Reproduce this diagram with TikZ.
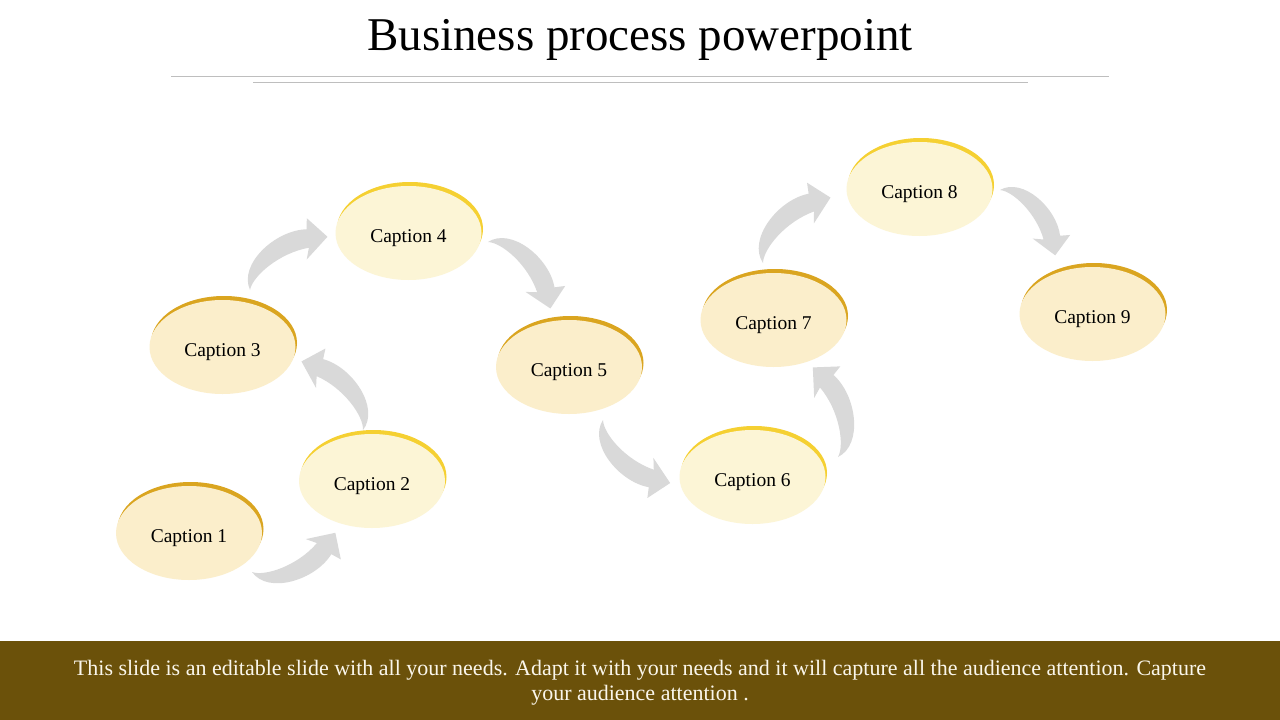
\documentclass[tikz,border=0pt]{standalone}
\usepackage{fontspec}
\setmainfont{Liberation Serif}
\usetikzlibrary{shapes.geometric,calc}
\definecolor{rimdark}{RGB}{218,165,32}
\definecolor{rimlight}{RGB}{245,208,50}
\definecolor{filldark}{RGB}{251,238,203}
\definecolor{filllight}{RGB}{252,245,214}
\definecolor{arrowgray}{RGB}{217,217,217}
\definecolor{footerbg}{RGB}{107,81,10}
\definecolor{rulegray}{RGB}{190,190,190}
\definecolor{footertext}{RGB}{250,246,235}
\tikzset{
  capbox/.style={ellipse, minimum width=146pt, minimum height=94pt, inner sep=0pt,
    font=\fontsize{19.5}{21}\selectfont, text height=23pt, text depth=4pt},
  darkcap/.style={capbox, fill=filldark},
  lightcap/.style={capbox, fill=filllight},
  rule/.style={draw=rulegray, line width=1pt},
  bendarrow/.pic={
    \fill[arrowgray] (0,0) .. controls (5,-28) and (55,-35) .. (81,-18)
      -- (87.5,-27) -- (94,0) -- (64,7) -- (72.5,-1.5)
      .. controls (45,-14) and (10,-10) .. (0,0) -- cycle;
  }
}
\newcommand\capnode[5]{%
  \fill[rim#5] (#2+1.5,#3-4) ellipse [x radius=73pt, y radius=47pt];
  \node[#5cap] (#1) at (#2,#3) {#4};
}
\begin{document}
\begin{tikzpicture}[x=1pt,y=-1pt]
\useasboundingbox (0,0) rectangle (1280,720);
\fill[white] (0,0) rectangle (1280,720);

% title and rules
\node[font=\fontsize{47}{52}\selectfont, anchor=base] (title) at (640,50) {Business process powerpoint};
\coordinate (r1a) at (171,76); \coordinate (r1b) at (1109,76);
\coordinate (r2a) at (253,82); \coordinate (r2b) at (1028,82);
\draw[rule] (r1a) -- (r1b);
\draw[rule] (r2a) -- (r2b);

% caption ellipses
\capnode{c1}{189}{533}{Caption 1}{dark}
\capnode{c2}{372}{481}{Caption 2}{light}
\capnode{c3}{222.5}{347}{Caption 3}{dark}
\capnode{c4}{408.5}{233}{Caption 4}{light}
\capnode{c5}{569}{367}{Caption 5}{dark}
\capnode{c6}{752.5}{477}{Caption 6}{light}
\capnode{c7}{773.5}{320}{Caption 7}{dark}
\capnode{c8}{919.5}{189}{Caption 8}{light}
\capnode{c9}{1092.5}{314}{Caption 9}{dark}

% curved block arrows
\pic[rotate=25.2, yscale=-1, scale=0.98] at (252,572) {bendarrow};
\pic[rotate=131.9, yscale=-1, scale=0.98] at (363,430) {bendarrow};
\pic[rotate=34.5, scale=1] at (250,290) {bendarrow};
\pic[rotate=-46.8, scale=0.97] at (488,242) {bendarrow};
\pic[rotate=-43.2, yscale=-1, scale=0.98] at (603,420) {bendarrow};
\pic[rotate=105.7, yscale=-1, scale=0.99] at (838,457) {bendarrow};
\pic[rotate=44.1, scale=1] at (763,263) {bendarrow};
\pic[rotate=-49.8, scale=0.91] at (1000,190) {bendarrow};

% footer
\fill[footerbg] (0,641) rectangle (1280,720);
\node[align=center, text=footertext, font=\fontsize{22}{25}\selectfont] (footer) at (640,683)
  {This slide is an editable slide with all your needs. Adapt it with your needs and it will capture all the audience attention. Capture\\your audience attention .};
\end{tikzpicture}
\end{document}
